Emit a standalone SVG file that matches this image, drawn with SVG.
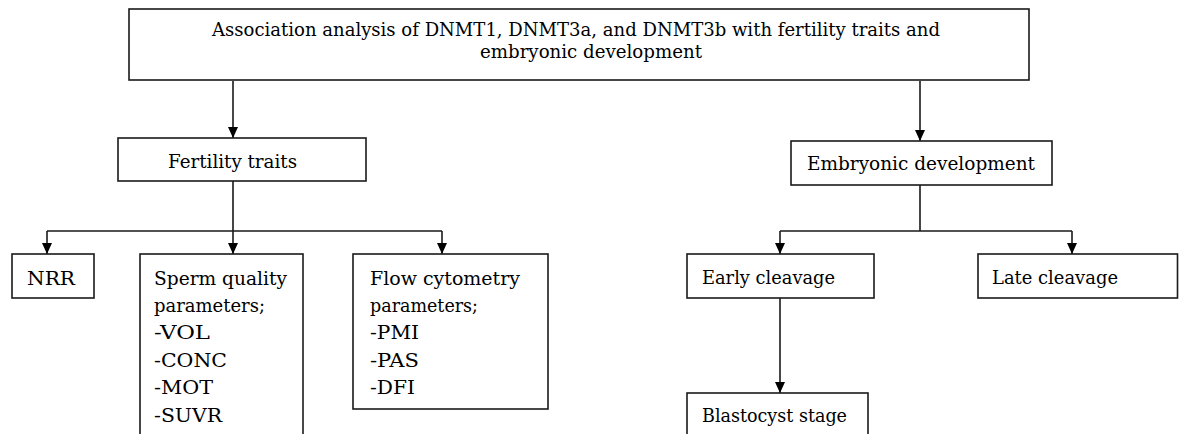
<svg xmlns="http://www.w3.org/2000/svg" width="1179" height="434" viewBox="0 0 1179 434">
<style>
.box{fill:#fff;stroke:#1a1a1a;stroke-width:1.6}
.t{font-family:"DejaVu Serif","Liberation Serif",serif;font-size:18px;fill:#000}
.c{fill:none;stroke:#1a1a1a;stroke-width:1.6}
</style>
<defs>
<marker id="arr" markerUnits="userSpaceOnUse" markerWidth="12" markerHeight="12" refX="11" refY="5.5" orient="auto">
<path d="M0,0.5 L11,5.5 L0,10.5 z" fill="#000"/>
</marker>
</defs>
<rect width="1179" height="434" fill="#fff"/>
<g id="connectors">
<path class="c" d="M233,81 V138" marker-end="url(#arr)"/>
<path class="c" d="M920,81 V141" marker-end="url(#arr)"/>
<path class="c" d="M233,181 V231 M47,231 H442"/>
<path class="c" d="M47,231 V254" marker-end="url(#arr)"/>
<path class="c" d="M233,231 V254" marker-end="url(#arr)"/>
<path class="c" d="M442,231 V254" marker-end="url(#arr)"/>
<path class="c" d="M920,185 V231 M780,231 H1072"/>
<path class="c" d="M780,231 V254" marker-end="url(#arr)"/>
<path class="c" d="M1072,231 V254" marker-end="url(#arr)"/>
<path class="c" d="M780,298 V393" marker-end="url(#arr)"/>
</g>
<g id="root">
<rect class="box" x="129" y="9" width="900" height="71"/>
<text class="t" x="212" y="36" textLength="728" lengthAdjust="spacingAndGlyphs">Association analysis of DNMT1, DNMT3a, and DNMT3b with fertility traits and</text>
<text class="t" x="480" y="58" textLength="222" lengthAdjust="spacingAndGlyphs">embryonic development</text>
</g>
<g id="fertility">
<rect class="box" x="118" y="138" width="248" height="43"/>
<text class="t" x="168" y="168" textLength="129" lengthAdjust="spacingAndGlyphs">Fertility traits</text>
</g>
<g id="nrr">
<rect class="box" x="12" y="254" width="82" height="44"/>
<text class="t" x="27" y="285" textLength="48" lengthAdjust="spacingAndGlyphs">NRR</text>
</g>
<g id="sperm">
<rect class="box" x="140" y="254" width="163" height="200"/>
<text class="t" x="154" y="285" textLength="133" lengthAdjust="spacingAndGlyphs">Sperm quality</text>
<text class="t" x="154" y="312" textLength="111" lengthAdjust="spacingAndGlyphs">parameters;</text>
<text class="t" x="154" y="339" textLength="56" lengthAdjust="spacingAndGlyphs">-VOL</text>
<text class="t" x="154" y="367" textLength="73" lengthAdjust="spacingAndGlyphs">-CONC</text>
<text class="t" x="154" y="394" textLength="59" lengthAdjust="spacingAndGlyphs">-MOT</text>
<text class="t" x="154" y="422" textLength="68" lengthAdjust="spacingAndGlyphs">-SUVR</text>
</g>
<g id="flow">
<rect class="box" x="353" y="254" width="195" height="155"/>
<text class="t" x="370" y="285" textLength="150" lengthAdjust="spacingAndGlyphs">Flow cytometry</text>
<text class="t" x="370" y="312" textLength="108" lengthAdjust="spacingAndGlyphs">parameters;</text>
<text class="t" x="370" y="339" textLength="49" lengthAdjust="spacingAndGlyphs">-PMI</text>
<text class="t" x="370" y="367" textLength="49" lengthAdjust="spacingAndGlyphs">-PAS</text>
<text class="t" x="370" y="394" textLength="45" lengthAdjust="spacingAndGlyphs">-DFI</text>
</g>
<g id="embryonic">
<rect class="box" x="791" y="141" width="261" height="44"/>
<text class="t" x="807" y="170" textLength="228" lengthAdjust="spacingAndGlyphs">Embryonic development</text>
</g>
<g id="early">
<rect class="box" x="687" y="254" width="187" height="44"/>
<text class="t" x="702" y="284" textLength="133" lengthAdjust="spacingAndGlyphs">Early cleavage</text>
</g>
<g id="late">
<rect class="box" x="978" y="254" width="199.5" height="44"/>
<text class="t" x="992" y="284" textLength="126" lengthAdjust="spacingAndGlyphs">Late cleavage</text>
</g>
<g id="blastocyst">
<rect class="box" x="687" y="393" width="181" height="60"/>
<text class="t" x="702" y="422" textLength="145" lengthAdjust="spacingAndGlyphs">Blastocyst stage</text>
</g>
</svg>
